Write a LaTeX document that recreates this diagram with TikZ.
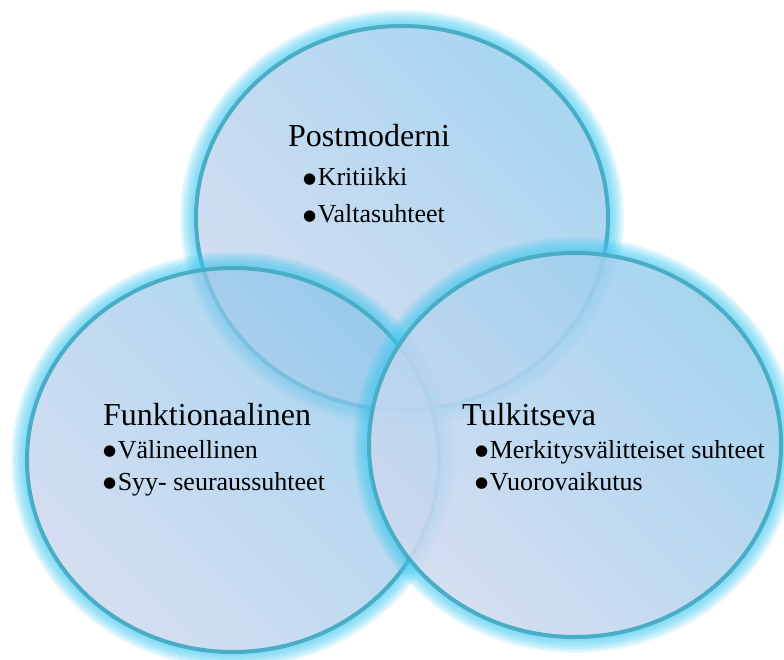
\documentclass[tikz,border=0pt]{standalone}
\usepackage{fontspec}
\setmainfont{Liberation Serif}
\newfontfamily\dotfont{DejaVu Sans}
\definecolor{lav}{HTML}{C3D0EB}
\definecolor{sky}{HTML}{84C4EB}
\definecolor{lavB}{HTML}{CFD9EF}
\definecolor{skyB}{HTML}{9ACFEE}
\definecolor{rim}{HTML}{4AADC6}
\definecolor{halo}{HTML}{40C8F0}

\tikzset{
  disc/.style={left color=lav, right color=sky, shading angle=135, fill opacity=0.7},
  frontdisc/.style={left color=lavB, right color=skyB, shading angle=135, fill opacity=0.88},
  rimline/.style={draw=rim, line width=4pt},
  heading/.style={inner sep=0pt, anchor=base west, text height=22pt, text depth=6pt,
    font=\fontsize{32}{38}\selectfont},
  entry/.style={inner sep=0pt, anchor=base west, text height=18pt, text depth=5pt,
    font=\fontsize{26}{31}\selectfont},
}
% one Venn disc: outer glow, translucent gradient fill, rim
\newcommand\venndisc[2]{%
  \begin{scope}[even odd rule]
    \clip (-30,-30) rectangle (814,690)
      (#1) ellipse [x radius=206, y radius=192];
    \foreach \w in {4,8,...,32}
      \draw[halo, opacity=0.13, line width=\w pt] (#1) ellipse [x radius=206, y radius=192];
  \end{scope}
  \shade[#2] (#1) ellipse [x radius=206, y radius=192];
  \draw[rimline] (#1) ellipse [x radius=206, y radius=192];
}
\newcommand\bul{{\dotfont\fontsize{15}{15}\selectfont\raisebox{2.5pt}{●}}\hspace{1.5pt}}

\begin{document}
\begin{tikzpicture}[x=1pt, y=-1pt]
  \useasboundingbox (0,0) rectangle (784,660);
  \coordinate (cTop) at (402,218);
  \coordinate (cLeft) at (233,460);
  \coordinate (cRight) at (575,445);

  \venndisc{cTop}{disc}
  \venndisc{cLeft}{disc}
  \venndisc{cRight}{frontdisc}

  % Postmoderni
  \node[heading] (pmHead) at (288,147) {Postmoderni};
  \node[entry] (pmA) at (303,186) {\bul Kritiikki};
  \node[entry] (pmB) at (303,223) {\bul Valtasuhteet};

  % Funktionaalinen
  \node[heading] (fuHead) at (103,425) {Funktionaalinen};
  \node[entry] (fuA) at (103,458) {\bul Välineellinen};
  \node[entry] (fuB) at (103,490) {\bul Syy- seuraussuhteet};

  % Tulkitseva
  \node[heading] (tuHead) at (462,425) {Tulkitseva};
  \node[entry] (tuA) at (475,458) {\bul Merkitysvälitteiset suhteet};
  \node[entry] (tuB) at (475,490) {\bul Vuorovaikutus};
\end{tikzpicture}
\end{document}
